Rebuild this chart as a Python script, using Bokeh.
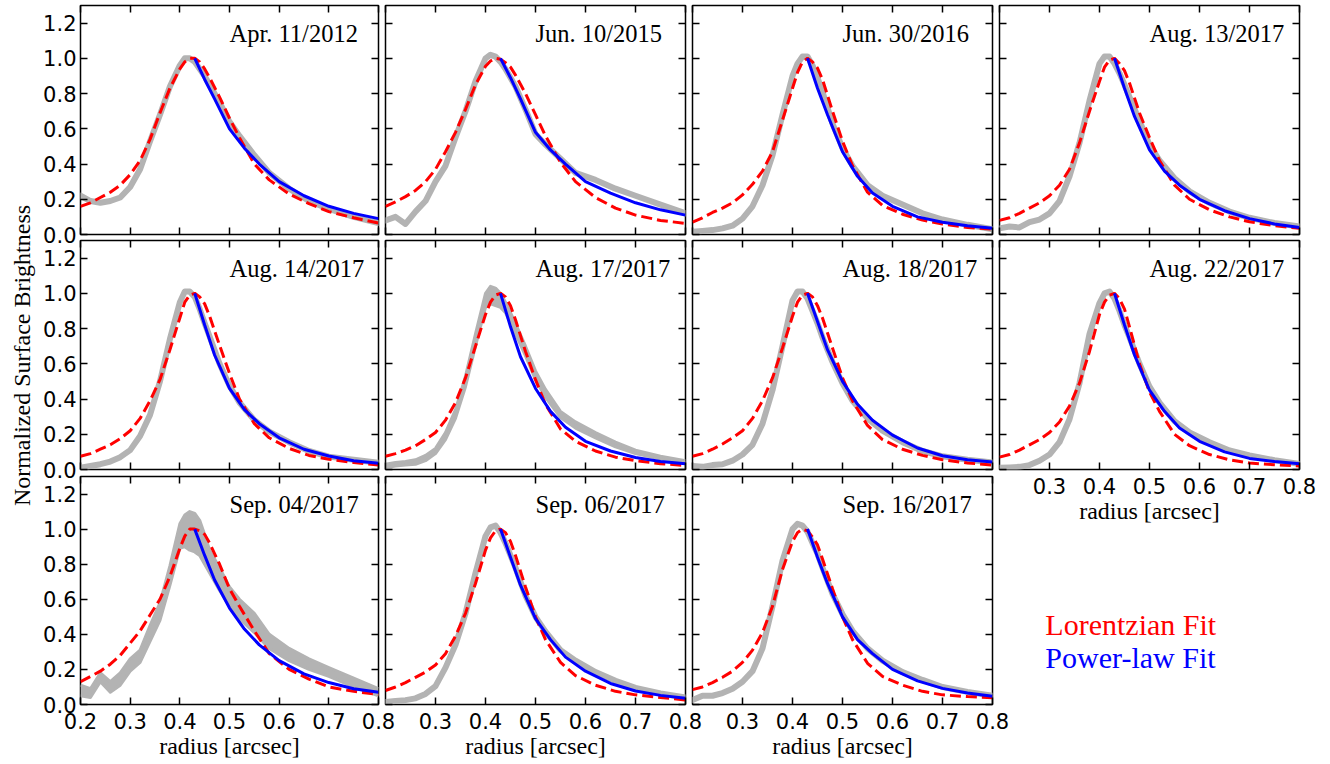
import math
from bokeh.plotting import figure
from bokeh.models import Range1d, LinearAxis, FixedTicker, PrintfTickFormatter, Label
from bokeh.layouts import column, row
from bokeh.embed import file_html
from bokeh.resources import INLINE

# ---------------- data ----------------
X = [0.20, 0.22, 0.24, 0.26, 0.28, 0.30, 0.32, 0.34, 0.36, 0.38, 0.40, 0.41, 0.42,
     0.43, 0.44, 0.45, 0.46, 0.48, 0.50, 0.52, 0.55, 0.58, 0.62, 0.66, 0.70, 0.75, 0.80]
XB = [0.43, 0.45, 0.47, 0.50, 0.53, 0.56, 0.60, 0.65, 0.70, 0.75, 0.80]

XTICKS = [0.2, 0.3, 0.4, 0.5, 0.6, 0.7, 0.8]
YTICKS = [0.0, 0.2, 0.4, 0.6, 0.8, 1.0, 1.2]

DATES = ["Apr. 11/2012", "Jun. 10/2015", "Jun. 30/2016", "Aug. 13/2017",
         "Aug. 14/2017", "Aug. 17/2017", "Aug. 18/2017", "Aug. 22/2017",
         "Sep. 04/2017", "Sep. 06/2017", "Sep. 16/2017"]

# observed profiles (grey)
obs_apr11_2012 = [0.22, 0.19, 0.18, 0.19, 0.21, 0.27, 0.37, 0.53, 0.68, 0.84, 0.96, 1.0, 1.0, 0.98, 0.94, 0.90, 0.85, 0.75, 0.64, 0.56, 0.45, 0.35, 0.26, 0.19, 0.145, 0.10, 0.065]
obs_jun10_2015 = [0.08, 0.10, 0.06, 0.13, 0.19, 0.30, 0.39, 0.55, 0.70, 0.87, 1.0, 1.02, 1.01, 0.98, 0.94, 0.89, 0.84, 0.71, 0.57, 0.51, 0.43, 0.35, 0.31, 0.26, 0.22, 0.17, 0.12]
obs_jun30_2016 = [0.015, 0.02, 0.025, 0.035, 0.05, 0.09, 0.16, 0.28, 0.45, 0.68, 0.90, 0.97, 1.01, 1.01, 0.96, 0.89, 0.81, 0.63, 0.49, 0.39, 0.28, 0.22, 0.17, 0.12, 0.085, 0.055, 0.03]
obs_aug13_2017 = [0.035, 0.045, 0.04, 0.07, 0.085, 0.12, 0.19, 0.33, 0.52, 0.76, 0.97, 1.01, 1.01, 0.97, 0.915, 0.85, 0.78, 0.645, 0.51, 0.42, 0.32, 0.245, 0.18, 0.13, 0.095, 0.065, 0.045]
obs_aug14_2017 = [0.01, 0.02, 0.03, 0.045, 0.07, 0.11, 0.19, 0.31, 0.50, 0.74, 0.95, 1.01, 1.01, 0.98, 0.91, 0.83, 0.755, 0.60, 0.475, 0.38, 0.28, 0.215, 0.155, 0.105, 0.073, 0.055, 0.038]
obs_aug17_2017 = [0.02, 0.03, 0.035, 0.04, 0.065, 0.10, 0.19, 0.31, 0.50, 0.73, 0.96, 0.99, 0.98, 0.96, 0.92, 0.86, 0.80, 0.67, 0.53, 0.43, 0.31, 0.25, 0.195, 0.14, 0.10, 0.068, 0.042]
obs_aug18_2017 = [0.02, 0.015, 0.025, 0.03, 0.05, 0.085, 0.14, 0.26, 0.45, 0.70, 0.96, 1.01, 1.01, 0.97, 0.90, 0.83, 0.75, 0.61, 0.49, 0.39, 0.29, 0.22, 0.155, 0.105, 0.075, 0.055, 0.04]
obs_aug22_2017 = [0.01, 0.012, 0.015, 0.025, 0.05, 0.085, 0.155, 0.285, 0.49, 0.77, 0.945, 1.0, 1.01, 0.97, 0.90, 0.82, 0.75, 0.60, 0.47, 0.38, 0.275, 0.21, 0.155, 0.108, 0.08, 0.053, 0.032]
obs_sep04_2017 = [0.08, 0.065, 0.155, 0.10, 0.145, 0.225, 0.275, 0.405, 0.53, 0.735, 0.96, 0.99, 0.99, 0.98, 0.95, 0.885, 0.815, 0.715, 0.615, 0.545, 0.465, 0.36, 0.285, 0.23, 0.185, 0.125, 0.07]
obs_sep06_2017 = [0.015, 0.02, 0.025, 0.035, 0.06, 0.105, 0.21, 0.34, 0.52, 0.75, 0.96, 1.01, 1.02, 0.98, 0.92, 0.85, 0.78, 0.62, 0.50, 0.415, 0.31, 0.25, 0.185, 0.135, 0.095, 0.063, 0.04]
obs_sep16_2017 = [0.025, 0.05, 0.05, 0.065, 0.09, 0.13, 0.19, 0.32, 0.56, 0.82, 1.0, 1.03, 1.02, 0.985, 0.92, 0.86, 0.78, 0.63, 0.515, 0.42, 0.32, 0.25, 0.185, 0.14, 0.10, 0.072, 0.05]

# uncertainty bands where the grey spread is wide
band_lo_aug17_2017 = [0.01, 0.02, 0.025, 0.03, 0.05, 0.09, 0.17, 0.29, 0.47, 0.70, 0.92, 0.94, 0.93, 0.92, 0.89, 0.83, 0.77, 0.645, 0.51, 0.41, 0.295, 0.235, 0.18, 0.128, 0.09, 0.06, 0.035]
band_hi_aug17_2017 = [0.03, 0.04, 0.045, 0.055, 0.08, 0.12, 0.21, 0.34, 0.53, 0.77, 1.0, 1.04, 1.03, 1.0, 0.95, 0.89, 0.83, 0.70, 0.56, 0.455, 0.33, 0.27, 0.21, 0.155, 0.11, 0.076, 0.05]
band_lo_sep04_2017 = [0.05, 0.04, 0.13, 0.07, 0.11, 0.19, 0.24, 0.36, 0.48, 0.68, 0.89, 0.90, 0.88, 0.87, 0.85, 0.80, 0.75, 0.65, 0.56, 0.49, 0.41, 0.32, 0.25, 0.20, 0.16, 0.10, 0.05]
band_hi_sep04_2017 = [0.11, 0.09, 0.18, 0.13, 0.18, 0.26, 0.31, 0.45, 0.58, 0.79, 1.03, 1.08, 1.10, 1.09, 1.05, 0.97, 0.88, 0.78, 0.67, 0.60, 0.52, 0.40, 0.32, 0.26, 0.21, 0.15, 0.09]

# Lorentzian fits (red dashed), on X
lor_apr11_2012 = [0.16, 0.18, 0.21, 0.24, 0.28, 0.34, 0.42, 0.54, 0.69, 0.83, 0.94, 0.98, 1.0, 1.0, 0.98, 0.94, 0.89, 0.78, 0.66, 0.55, 0.40, 0.31, 0.23, 0.175, 0.13, 0.095, 0.065]
lor_jun10_2015 = [0.16, 0.185, 0.215, 0.25, 0.30, 0.37, 0.47, 0.58, 0.71, 0.85, 0.955, 0.985, 1.0, 0.995, 0.975, 0.95, 0.905, 0.80, 0.68, 0.56, 0.41, 0.30, 0.21, 0.15, 0.11, 0.08, 0.063]
lor_jun30_2016 = [0.07, 0.095, 0.125, 0.15, 0.18, 0.225, 0.285, 0.36, 0.47, 0.65, 0.83, 0.92, 0.98, 1.0, 0.98, 0.945, 0.88, 0.70, 0.53, 0.39, 0.24, 0.165, 0.115, 0.082, 0.06, 0.04, 0.03]
lor_aug13_2017 = [0.08, 0.095, 0.12, 0.15, 0.18, 0.22, 0.28, 0.37, 0.52, 0.70, 0.87, 0.95, 0.99, 1.0, 0.97, 0.93, 0.86, 0.69, 0.55, 0.42, 0.28, 0.20, 0.14, 0.10, 0.072, 0.05, 0.035]
lor_aug14_2017 = [0.075, 0.09, 0.115, 0.14, 0.175, 0.22, 0.29, 0.39, 0.51, 0.68, 0.86, 0.95, 0.99, 1.0, 0.98, 0.94, 0.87, 0.705, 0.545, 0.40, 0.26, 0.18, 0.12, 0.08, 0.058, 0.04, 0.025]
lor_aug17_2017 = [0.075, 0.09, 0.11, 0.135, 0.17, 0.21, 0.28, 0.38, 0.52, 0.70, 0.88, 0.95, 0.99, 1.0, 0.98, 0.93, 0.85, 0.67, 0.51, 0.37, 0.23, 0.16, 0.105, 0.07, 0.05, 0.033, 0.023]
lor_aug18_2017 = [0.075, 0.09, 0.115, 0.145, 0.18, 0.22, 0.29, 0.39, 0.52, 0.69, 0.87, 0.95, 0.99, 1.0, 0.98, 0.93, 0.86, 0.69, 0.52, 0.39, 0.25, 0.17, 0.115, 0.08, 0.055, 0.037, 0.025]
lor_aug22_2017 = [0.07, 0.085, 0.11, 0.14, 0.17, 0.21, 0.27, 0.36, 0.49, 0.67, 0.88, 0.95, 0.99, 1.0, 0.97, 0.91, 0.81, 0.60, 0.44, 0.33, 0.20, 0.135, 0.085, 0.055, 0.037, 0.027, 0.02]
lor_sep04_2017 = [0.13, 0.16, 0.19, 0.23, 0.28, 0.35, 0.42, 0.51, 0.60, 0.73, 0.89, 0.96, 1.0, 1.0, 0.99, 0.97, 0.92, 0.80, 0.66, 0.56, 0.42, 0.29, 0.20, 0.145, 0.10, 0.075, 0.057]
lor_sep06_2017 = [0.08, 0.10, 0.125, 0.155, 0.185, 0.225, 0.29, 0.39, 0.52, 0.69, 0.88, 0.95, 0.99, 1.0, 0.98, 0.93, 0.85, 0.67, 0.50, 0.37, 0.24, 0.165, 0.11, 0.075, 0.055, 0.04, 0.026]
lor_sep16_2017 = [0.085, 0.10, 0.125, 0.155, 0.19, 0.24, 0.31, 0.41, 0.56, 0.77, 0.93, 0.98, 1.0, 0.99, 0.955, 0.91, 0.83, 0.66, 0.50, 0.37, 0.235, 0.16, 0.11, 0.075, 0.055, 0.045, 0.038]

# power-law fits (blue), on XB
pow_apr11_2012 = [1.0, 0.88, 0.77, 0.60, 0.49, 0.40, 0.30, 0.22, 0.16, 0.12, 0.09]
pow_jun10_2015 = [1.0, 0.89, 0.77, 0.58, 0.48, 0.40, 0.30, 0.235, 0.18, 0.14, 0.11]
pow_jun30_2016 = [1.0, 0.83, 0.68, 0.47, 0.33, 0.235, 0.16, 0.10, 0.07, 0.05, 0.035]
pow_aug13_2017 = [1.0, 0.83, 0.67, 0.48, 0.36, 0.28, 0.20, 0.135, 0.09, 0.06, 0.04]
pow_aug14_2017 = [1.0, 0.82, 0.65, 0.46, 0.34, 0.26, 0.18, 0.115, 0.077, 0.05, 0.035]
pow_aug17_2017 = [1.0, 0.81, 0.64, 0.46, 0.33, 0.24, 0.16, 0.105, 0.068, 0.046, 0.032]
pow_aug18_2017 = [1.0, 0.84, 0.68, 0.50, 0.37, 0.28, 0.195, 0.122, 0.078, 0.055, 0.042]
pow_aug22_2017 = [1.0, 0.82, 0.65, 0.45, 0.33, 0.235, 0.16, 0.10, 0.063, 0.045, 0.032]
pow_sep04_2017 = [1.0, 0.85, 0.71, 0.55, 0.43, 0.34, 0.25, 0.175, 0.125, 0.09, 0.07]
pow_sep06_2017 = [1.0, 0.84, 0.68, 0.49, 0.37, 0.27, 0.19, 0.12, 0.077, 0.052, 0.036]
pow_sep16_2017 = [1.0, 0.84, 0.69, 0.50, 0.37, 0.29, 0.20, 0.135, 0.092, 0.066, 0.047]

OBS = [obs_apr11_2012, obs_jun10_2015, obs_jun30_2016, obs_aug13_2017, obs_aug14_2017,
       obs_aug17_2017, obs_aug18_2017, obs_aug22_2017, obs_sep04_2017, obs_sep06_2017,
       obs_sep16_2017]
LOR = [lor_apr11_2012, lor_jun10_2015, lor_jun30_2016, lor_aug13_2017, lor_aug14_2017,
       lor_aug17_2017, lor_aug18_2017, lor_aug22_2017, lor_sep04_2017, lor_sep06_2017,
       lor_sep16_2017]
POW = [pow_apr11_2012, pow_jun10_2015, pow_jun30_2016, pow_aug13_2017, pow_aug14_2017,
       pow_aug17_2017, pow_aug18_2017, pow_aug22_2017, pow_sep04_2017, pow_sep06_2017,
       pow_sep16_2017]
BANDS = {5: (band_lo_aug17_2017, band_hi_aug17_2017), 8: (band_lo_sep04_2017, band_hi_sep04_2017)}

# ---------------- style ----------------
GREY = "#b3b3b3"
SERIF = "Liberation Serif"
SANS = "DejaVu Sans"


def make_axis(ticks, labels, standoff=4):
    ax = LinearAxis(ticker=FixedTicker(ticks=ticks), major_tick_in=7, major_tick_out=0,
                    major_tick_line_color="black", major_tick_line_width=1.5,
                    minor_tick_line_color=None, axis_line_color=None)
    if labels:
        ax.formatter = PrintfTickFormatter(format="%.1f")
        ax.major_label_text_font = SANS
        ax.major_label_text_font_size = "21px"
        ax.major_label_text_color = "black"
        ax.major_label_standoff = standoff
    else:
        ax.major_label_text_font_size = "0px"
        ax.major_label_text_color = None
        ax.major_label_standoff = 0
    return ax


def bare_figure(**kw):
    p = figure(output_backend="svg", toolbar_location=None,
               x_axis_location=None, y_axis_location=None,
               background_fill_color=None, border_fill_color=None, **kw)
    p.xgrid.visible = False
    p.ygrid.visible = False
    p.grid.visible = False
    return p


def make_panel(i, col, rw):
    first_col = col == 0
    xlab = (rw == 2) or (col == 3 and rw == 1)
    width = 358 if first_col else 327
    bl = 38 if first_col else 7
    bt = 5 if rw == 0 else 3
    bb = 60 if xlab else 15
    fh = 228 if rw == 2 else 229
    kw = {}
    if rw == 1:
        kw["margin"] = (-12, 0, 0, 0)
    elif rw == 2:
        kw["margin"] = (-11, 0, 0, 0)
    p = bare_figure(width=width, height=bt + fh + bb,
                    x_range=Range1d(0.2, 0.8), y_range=Range1d(0.0, 1.3),
                    min_border_left=bl, min_border_right=20,
                    min_border_top=bt, min_border_bottom=bb,
                    outline_line_color="black", outline_line_width=1.5, **kw)

    below = make_axis(XTICKS if (first_col or not xlab) else XTICKS[1:], xlab, standoff=8)
    if xlab:
        below.axis_label = "radius [arcsec]"
        below.axis_label_text_font = SERIF
        below.axis_label_text_font_size = "24px"
        below.axis_label_text_font_style = "normal"
        below.axis_label_text_color = "black"
        below.axis_label_standoff = 1
    p.add_layout(below, "below")
    p.add_layout(make_axis(XTICKS, False), "above")
    p.add_layout(make_axis(YTICKS, first_col, standoff=4), "left")
    p.add_layout(make_axis(YTICKS, False), "right")

    if i in BANDS:
        lo, hi = BANDS[i]
        p.varea(x=X, y1=lo, y2=hi, fill_color=GREY, fill_alpha=1.0)
        p.line(X, lo, line_color=GREY, line_width=3, line_join="round")
        p.line(X, hi, line_color=GREY, line_width=3, line_join="round")
    else:
        p.line(X, OBS[i], line_color=GREY, line_width=6, line_join="round", line_cap="round")
    p.line(X, LOR[i], line_color="#ff0000", line_width=3, line_dash="11 5")
    p.line(XB, POW[i], line_color="#0000ff", line_width=3)

    p.add_layout(Label(x=0.5, y=1.14, text=DATES[i], text_font=SERIF,
                       text_font_size="24.5px", text_color="black",
                       text_baseline="middle", text_align="left"))
    return p


POS = [(0, 0), (0, 1), (0, 2), (0, 3),
       (1, 0), (1, 1), (1, 2), (1, 3),
       (2, 0), (2, 1), (2, 2)]
figs = {}
for i, (rw, col) in enumerate(POS):
    figs[(rw, col)] = make_panel(i, col, rw)

# shared y-axis title
ylab = bare_figure(width=40, height=764, x_range=Range1d(0, 40), y_range=Range1d(0, 764),
                   min_border=0, outline_line_color=None)
ylab.add_layout(Label(x=21, y=409, text="Normalized Surface Brightness", angle=math.pi / 2,
                      text_font=SERIF, text_font_size="24px", text_color="black",
                      text_align="center", text_baseline="middle"))

# legend text
leg = bare_figure(width=327, height=235, x_range=Range1d(0, 327), y_range=Range1d(235, 0),
                  min_border=0, outline_line_color=None)
leg.add_layout(Label(x=50, y=95, text="Lorentzian Fit", text_color="#ff0000",
                     text_font=SERIF, text_font_size="30px", text_baseline="middle"))
leg.add_layout(Label(x=50, y=128, text="Power-law Fit", text_color="#0000ff",
                     text_font=SERIF, text_font_size="30px", text_baseline="middle"))

c1 = column(figs[(0, 0)], figs[(1, 0)], figs[(2, 0)])
c2 = column(figs[(0, 1)], figs[(1, 1)], figs[(2, 1)], margin=(0, 0, 0, -20))
c3 = column(figs[(0, 2)], figs[(1, 2)], figs[(2, 2)], margin=(0, 0, 0, -20))
c4 = column(figs[(0, 3)], figs[(1, 3)], leg, margin=(0, 0, 0, -20))
layout = row(ylab, c1, c2, c3, c4)

open("out.html", "w").write(file_html(layout, INLINE))
